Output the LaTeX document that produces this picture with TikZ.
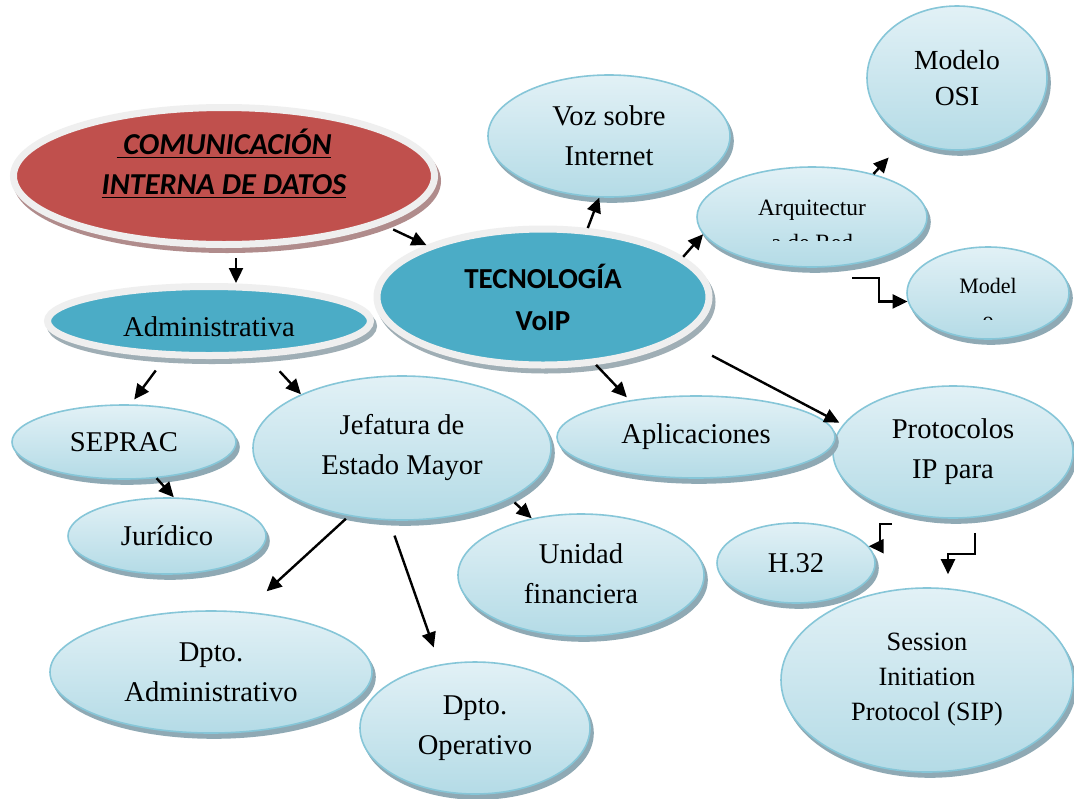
\documentclass[tikz,border=0pt]{standalone}
\usepackage{fontspec}
\setmainfont{Liberation Serif}
\newfontfamily\calibri{Carlito}
\usetikzlibrary{arrows.meta,shapes.geometric}

\definecolor{rootred}{HTML}{C0504D}
\definecolor{mainblue}{HTML}{4BACC6}
\definecolor{rimgray}{HTML}{EFEFEF}
\definecolor{lighttop}{HTML}{E2F1F6}
\definecolor{lightbot}{HTML}{B4DBE6}
\definecolor{lightedge}{HTML}{86C6D8}
\definecolor{blueshadow}{HTML}{8FA9B4}
\definecolor{redshadow}{HTML}{B08C8C}
\definecolor{greyshadow}{HTML}{9FAEB5}

\begin{document}
\begin{tikzpicture}[
        x=0.5pt, y=-0.5pt,
        shadowed/.style={preaction={fill=#1, draw=#1, transform canvas={xshift=1.5pt, yshift=-2.5pt}}},
        bubble/.style={ellipse, draw=lightedge, line width=0.8pt, top color=lighttop, bottom color=lightbot, shadowed=blueshadow, inner sep=0pt, align=center, font=\fontsize{14.3}{20}\selectfont},
        hub/.style={ellipse, draw=rimgray, line width=3.5pt, fill=mainblue, shadowed=greyshadow, inner sep=0pt, align=center, font=\calibri\bfseries\fontsize{14.5}{21}\selectfont},
        root/.style={ellipse, draw=rimgray, line width=3.5pt, fill=rootred, shadowed=redshadow, inner sep=0pt},
        roottext/.style={align=center, inner sep=0pt, yshift=6pt, font=\calibri\bfseries\itshape\fontsize{15.2}{20}\selectfont},
        cut/.style={anchor=base, inner sep=0pt, font=\fontsize{11.7}{17}\selectfont},
        arr/.style={-{Triangle[length=7.5pt,width=7pt]}, line width=1.2pt}
    ]
        \path[use as bounding box, fill=white] (0,0) rectangle (1074,798);

        % Main concepts
        \node[root, minimum width=210.5pt, minimum height=68.5pt,
              label={[roottext, name=comtext]center:{\underline{\ COMUNICACIÓN}\\\underline{INTERNA DE DATOS}}}] (com) at (224,176) {};
        \node[hub, minimum width=161.5pt, minimum height=34.5pt,
              label={[name=admtext, yshift=-3pt, font=\fontsize{14.3}{20}\selectfont]center:Administrativa}] (adm) at (209,321) {};
        \node[hub, minimum width=166pt, minimum height=68pt] (tec) at (543,297) {TECNOLOGÍA\\VoIP};

        % Technology branch
        \node[bubble, minimum width=121pt, minimum height=61pt] (voz) at (609,136) {Voz sobre\\Internet};
        \node[bubble, minimum width=90pt, minimum height=72pt, font=\fontsize{13.8}{18}\selectfont] (osi) at (957,78) {Modelo\\OSI};
        \node[bubble, minimum width=115pt, minimum height=50pt] (arq) at (812,217) {};
        \node[bubble, minimum width=81pt, minimum height=46pt] (mod) at (988,293) {};
        \node[bubble, minimum width=120pt, minimum height=66pt] (pro) at (953,452) {Protocolos\\IP para};
        \node[bubble, minimum width=139pt, minimum height=41pt] (apl) at (696,437) {Aplicaciones};
        \node[bubble, minimum width=146pt, minimum height=92pt, font=\fontsize{13.2}{17.5}\selectfont] (sip) at (927,680) {Session\\Initiation\\Protocol (SIP)};
        \node[bubble, minimum width=79pt, minimum height=40pt] (h32) at (796,563) {H.32};

        % Text cut off by its box
        \begin{scope}
            \clip (697,160) rectangle (928,240);
            \node[cut] (arqa) at (812,215) {Arquitectur};
            \node[cut] (arqb) at (812,250) {a de Red};
        \end{scope}
        \begin{scope}
            \clip (907,240) rectangle (1070,319);
            \node[cut, font=\fontsize{11}{17}\selectfont] (moda) at (988,293) {Model};
            \node[cut, font=\fontsize{11}{17}\selectfont] (modb) at (988,327) {o};
        \end{scope}

        % Administrative branch
        \node[bubble, minimum width=112pt, minimum height=37pt] (sep) at (124,442) {SEPRAC};
        \node[bubble, minimum width=99pt, minimum height=38pt] (jur) at (167,536) {Jurídico};
        \node[bubble, minimum width=149pt, minimum height=72pt] (jef) at (402,448) {Jefatura de\\Estado Mayor};
        \node[bubble, minimum width=123pt, minimum height=61pt, text depth=1pt] (uni) at (581,575) {Unidad\\financiera};
        \node[bubble, minimum width=115pt, minimum height=66pt] (dop) at (475,728) {Dpto.\\Operativo};
        \node[bubble, minimum width=161pt, minimum height=61pt] (dad) at (211,672) {Dpto.\\Administrativo};

        % Connections
        \draw[arr, shorten <=6pt] (com.-17) -- (tec.156);
        \draw[arr, shorten <=5pt] ([xshift=6pt]com.south) -- ([xshift=6pt]com.south |- adm.north);
        \draw[arr, shorten <=8pt, shorten >=3pt] (adm.-140) -- (sep.80);
        \draw[arr, shorten <=10pt] (adm.-32) -- (jef.152);
        \draw[arr] (sep.-48) -- (jur.80);
        \draw[arr, shorten <=2pt, shorten >=15pt] (jef.-128) -- (dad.61);
        \draw[arr, shorten <=8pt, shorten >=9pt] (jef.-100) -- (dop.119);
        \draw[arr, shorten <=3pt] (jef.-25) -- (uni.131);
        \draw[arr] (tec.57) -- (voz.-99);
        \draw[arr] (tec.16) -- (arq.-171);
        \draw[arr, shorten >=13pt] (arq.35) -- (osi.-130);
        \draw[arr] ([xshift=20pt,yshift=-5pt]arq.south) -- ++(27,0) |- (mod.-174);
        \draw[arr, shorten >=2pt] (tec.-52) -- (apl.151);
        \draw[arr, shorten <=18pt, shorten >=2pt] (tec.-17) -- (pro.166);
        \draw[arr] ([xshift=-30.5pt,yshift=-2.5pt]pro.south) -- ++(-12,0) |- (h32.13);
        \draw[arr] ([xshift=11pt,yshift=-7pt]pro.south) -- ++(0,21) -| ([xshift=10.5pt,yshift=6.5pt]sip.north);
\end{tikzpicture}
\end{document}
